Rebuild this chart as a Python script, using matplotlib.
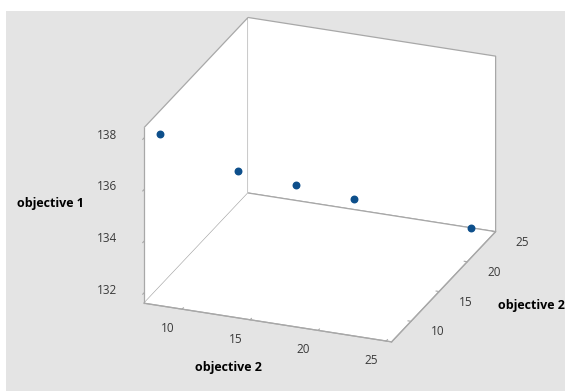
import numpy as np
import matplotlib
matplotlib.use("Agg")
import matplotlib.pyplot as plt
from matplotlib.patches import Rectangle
from mpl_toolkits.mplot3d import proj3d

# values
obj2_x = [7.85, 11.9, 14.9, 17.95, 24.0]
obj2_y = [7.85, 11.9, 14.9, 17.95, 24.0]
obj1 = [137.92, 135.87, 134.9, 133.9, 131.87]

x_ticks = [10, 15, 20, 25]
y_ticks = [10, 15, 20, 25]
z_ticks = [132, 134, 136, 138]

xlim = (7.2, 25.4)
ylim = (6.55, 25.05)
zlim = (131.6, 138.4)

W, H = 565, 391
plt.rcParams['font.family'] = ['Open Sans', 'DejaVu Sans']

fig = plt.figure(figsize=(W / 100, H / 100), dpi=100)
fig.patch.set_facecolor('white')
fig.add_artist(Rectangle((6 / W, 0), 1 - 6 / W, 1 - 11 / H, transform=fig.transFigure,
                         facecolor='#e4e4e4', edgecolor='none', zorder=-1))

ax = fig.add_axes([0.1, 0.1, 0.8, 0.8 * W / H], projection='3d', proj_type='ortho')
ax.patch.set_alpha(0)
ax.view_init(elev=24, azim=-69)
ax.set_box_aspect((265, 290, 192))

ax.scatter(obj2_x, obj2_y, obj1, color='#0d4f8b', s=22, depthshade=False)

ax.set_xlim(*xlim)
ax.set_ylim(*ylim)
ax.set_zlim(*zlim)
ax.set_xticks(x_ticks)
ax.set_yticks(y_ticks)
ax.set_zticks(z_ticks)
ax.zaxis.set_ticks_position('lower')
ax.grid(False)

edge = '#a8a8a8'
for axis in (ax.xaxis, ax.yaxis, ax.zaxis):
    axis.set_pane_color('white')
    axis.pane.set_edgecolor(edge)
    axis.pane.set_linewidth(0.9)
    axis.line.set_color(edge)
    axis.line.set_linewidth(0.9)
    axis._axinfo['tick']['inward_factor'] = 0.0
    axis._axinfo['tick']['outward_factor'] = 0.15
    axis.set_tick_params(label1On=False, label2On=False, color=edge)
# z ticks should stick out to the left
ax.zaxis._axinfo['tick']['inward_factor'] = 0.15
ax.zaxis._axinfo['tick']['outward_factor'] = 0.0

# fit the box to its place in the picture
fig.canvas.draw()
corners = np.array([
    (xlim[0], ylim[0], zlim[0]), (xlim[0], ylim[0], zlim[1]),
    (xlim[0], ylim[1], zlim[1]), (xlim[0], ylim[1], zlim[0]),
    (xlim[1], ylim[1], zlim[1]), (xlim[1], ylim[1], zlim[0]),
    (xlim[1], ylim[0], zlim[0])])
target = np.array([(145, 302), (142, 127), (247, 17), (250, 190),
                   (493, 58), (497, 234), (393, 343)], dtype=float)
target[:, 1] = H - target[:, 1]
px, py, _ = proj3d.proj_transform(corners[:, 0], corners[:, 1], corners[:, 2], ax.get_proj())
p = ax.transData.transform(np.c_[px, py])
pc = p - p.mean(0)
qc = target - target.mean(0)
s = (pc * qc).sum() / (pc * pc).sum()
t = target.mean(0) - s * p.mean(0)
bb = ax.get_position()
a0 = np.array([bb.x0 * W, bb.y0 * H])
w0 = bb.width * W
a1 = s * a0 + t
w1 = s * w0
ax.set_position([a1[0] / W, a1[1] / H, w1 / W, w1 / H])
fig.canvas.draw()


def to_fig(x, y, z):
    qx, qy, _ = proj3d.proj_transform(np.array([x]), np.array([y]), np.array([z]), ax.get_proj())
    d = ax.transData.transform(np.c_[qx, qy])[0]
    return d[0] / W, d[1] / H


# tick labels, pushed straight out from each axis line
lab = dict(ha='center', va='center', fontsize=8.5, color='#3a3a3a')
for v in x_ticks:
    fig.text(*to_fig(v, ylim[0] - 2.6, zlim[0] - 0.15), str(v), **lab)
for v in y_ticks:
    fig.text(*to_fig(xlim[1] + 1.95, v, zlim[0] - 0.25), str(v), **lab)
for v in z_ticks:
    fig.text(*to_fig(xlim[0] - 2.7, ylim[0], v - 0.12), str(v), **lab)

fig.text(50 / W, 1 - 203 / H, 'objective 1', ha='center', va='center', fontsize=9, fontweight='bold')
fig.text(228 / W, 1 - 367 / H, 'objective 2', ha='center', va='center', fontsize=9, fontweight='bold')
fig.text(531 / W, 1 - 306 / H, 'objective 2', ha='center', va='center', fontsize=9, fontweight='bold')

fig.savefig('out.png', dpi=100)
